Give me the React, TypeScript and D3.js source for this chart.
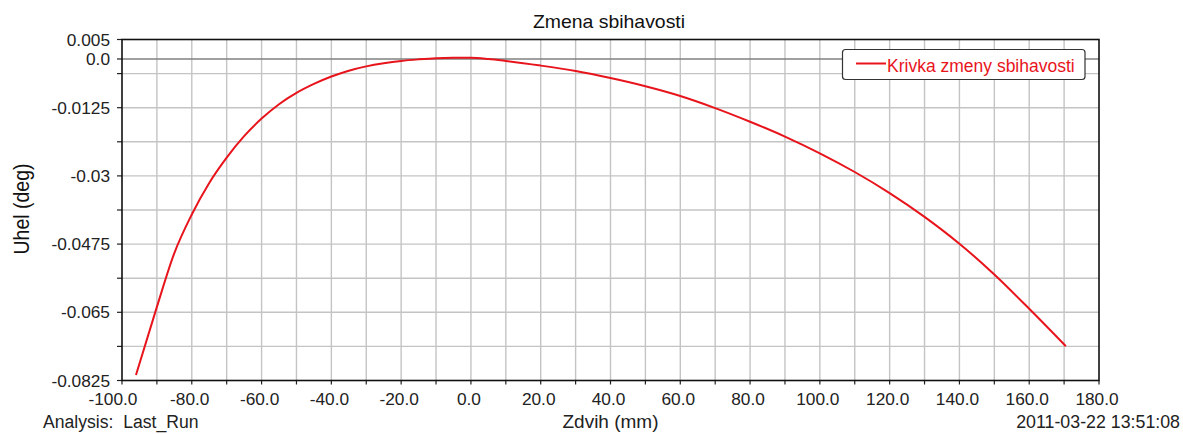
import React from "react";
import * as d3 from "d3";

const lift: number[] = [-96, -90, -85, -80, -75, -70, -65, -60, -55, -50, -45, -40, -35, -30, -25, -20, -15, -10, -5, 0, 5, 10, 20, 30, 40, 50, 60, 70, 80, 90, 100, 110, 120, 130, 140, 150, 160, 170.5];
const angle: number[] = [-0.0811, -0.0636, -0.0498, -0.0399, -0.0318, -0.0253, -0.0198, -0.0153, -0.0116, -0.0087, -0.0064, -0.0045, -0.003, -0.0019, -0.0011, -0.0005, -0.0001, 0.0002, 0.0003, 0.0003, 0.0, -0.0005, -0.0017, -0.0031, -0.0049, -0.007, -0.0095, -0.0126, -0.0161, -0.0199, -0.0242, -0.029, -0.0344, -0.0405, -0.0474, -0.0553, -0.0641, -0.0737];

const xTickValues: number[] = [-100, -80, -60, -40, -20, 0, 20, 40, 60, 80, 100, 120, 140, 160, 180];
const xTickLabels: string[] = ["-100.0", "-80.0", "-60.0", "-40.0", "-20.0", "0.0", "20.0", "40.0", "60.0", "80.0", "100.0", "120.0", "140.0", "160.0", "180.0"];
const xGridValues: number[] = [-90, -80, -70, -60, -50, -40, -30, -20, -10, 0, 10, 20, 30, 40, 50, 60, 70, 80, 90, 100, 110, 120, 130, 140, 150, 160, 170];

const yTickValues: number[] = [0.005, 0, -0.0125, -0.03, -0.0475, -0.065, -0.0825];
const yTickLabels: string[] = ["0.005", "0.0", "-0.0125", "-0.03", "-0.0475", "-0.065", "-0.0825"];
const yGridValues: number[] = [-0.00375, -0.0125, -0.02125, -0.03, -0.03875, -0.0475, -0.05625, -0.065, -0.07375];

const title = "Zmena sbihavosti";
const xTitle = "Zdvih (mm)";
const yTitle = "Uhel (deg)";
const legendLabel = "Krivka zmeny sbihavosti";
const footLeft = "Analysis:  Last_Run";
const footRight = "2011-03-22 13:51:08";

export default function App() {
  const W = 1183, H = 434;
  const L = 122, R = 1099, T = 39.5, B = 380.5;
  const x = d3.scaleLinear().domain([-100, 180]).range([L, R]);
  const y = d3.scaleLinear().domain([-0.0825, 0.005]).range([B, T]);
  const pts: [number, number][] = lift.map((v, i) => [v, angle[i]]);
  const line = d3.line<[number, number]>().x(d => x(d[0])).y(d => y(d[1])).curve(d3.curveMonotoneX);
  const font = "'Liberation Sans', Arial, sans-serif";
  const red = "#e8141c";
  return (
    <svg width={W} height={H} style={{ position: "absolute", left: 0, top: 0, background: "#fff" }} fontFamily={font}>
      <rect x={0} y={0} width={W} height={H} fill="#fff" />
      <text transform={`translate(${(L + R) / 2 - 1.5},28) scale(1.11,1)`} textAnchor="middle" fontSize={17.5} fill="#111">{title}</text>
      {xGridValues.map(v => (
        <line key={"xg" + v} x1={x(v)} x2={x(v)} y1={T} y2={B} stroke="#c4c4c4" strokeWidth={1.4} />
      ))}
      {yGridValues.map(v => (
        <line key={"yg" + v} x1={L} x2={R} y1={y(v)} y2={y(v)} stroke="#c4c4c4" strokeWidth={1.4} />
      ))}
      <line x1={L} x2={R} y1={y(0)} y2={y(0)} stroke="#808080" strokeWidth={1.4} />
      {xGridValues.concat([-100, 180]).map(v => (
        <line key={"xt" + v} x1={x(v)} x2={x(v)} y1={B} y2={B + 4} stroke="#222" strokeWidth={1.2} />
      ))}
      {yGridValues.concat([0, 0.005, -0.0825]).map(v => (
        <line key={"yt" + v} x1={L - 5} x2={L} y1={y(v)} y2={y(v)} stroke="#222" strokeWidth={1.2} />
      ))}
      <rect x={L} y={T} width={R - L} height={B - T} fill="none" stroke="#111" strokeWidth={1.6} />
      <path d={line(pts) || ""} fill="none" stroke={red} strokeWidth={2} />
      {xTickValues.map((v, i) => (
        <text key={"xl" + v} x={x(v) + (i === 0 ? -9 : -2)} y={405} textAnchor="middle" fontSize={17.3} fill="#222">{xTickLabels[i]}</text>
      ))}
      {yTickValues.map((v, i) => (
        <text key={"yl" + v} x={110} y={y(v) + 6} textAnchor="end" fontSize={17.3} fill="#222">{yTickLabels[i]}</text>
      ))}
      <text x={(L + R) / 2} y={428} textAnchor="middle" fontSize={19} fill="#222">{xTitle}</text>
      <text transform={`translate(28.6,209) scale(1.15,1) rotate(-90)`} textAnchor="middle" fontSize={19.5} fill="#111">{yTitle}</text>
      <text x={43} y={428} fontSize={17.6} fill="#222" style={{ whiteSpace: "pre" }}>{footLeft}</text>
      <text x={1180} y={428} textAnchor="end" fontSize={17.8} fill="#222">{footRight}</text>
      <g>
        <rect x={842.5} y={49.5} width={242.5} height={30} rx={3} ry={3} fill="#fff" stroke="#333" strokeWidth={1.2} />
        <line x1={856} x2={886} y1={63.5} y2={63.5} stroke={red} strokeWidth={2} />
        <text x={887} y={72} fontSize={17.5} fill={red}>{legendLabel}</text>
      </g>
    </svg>
  );
}
